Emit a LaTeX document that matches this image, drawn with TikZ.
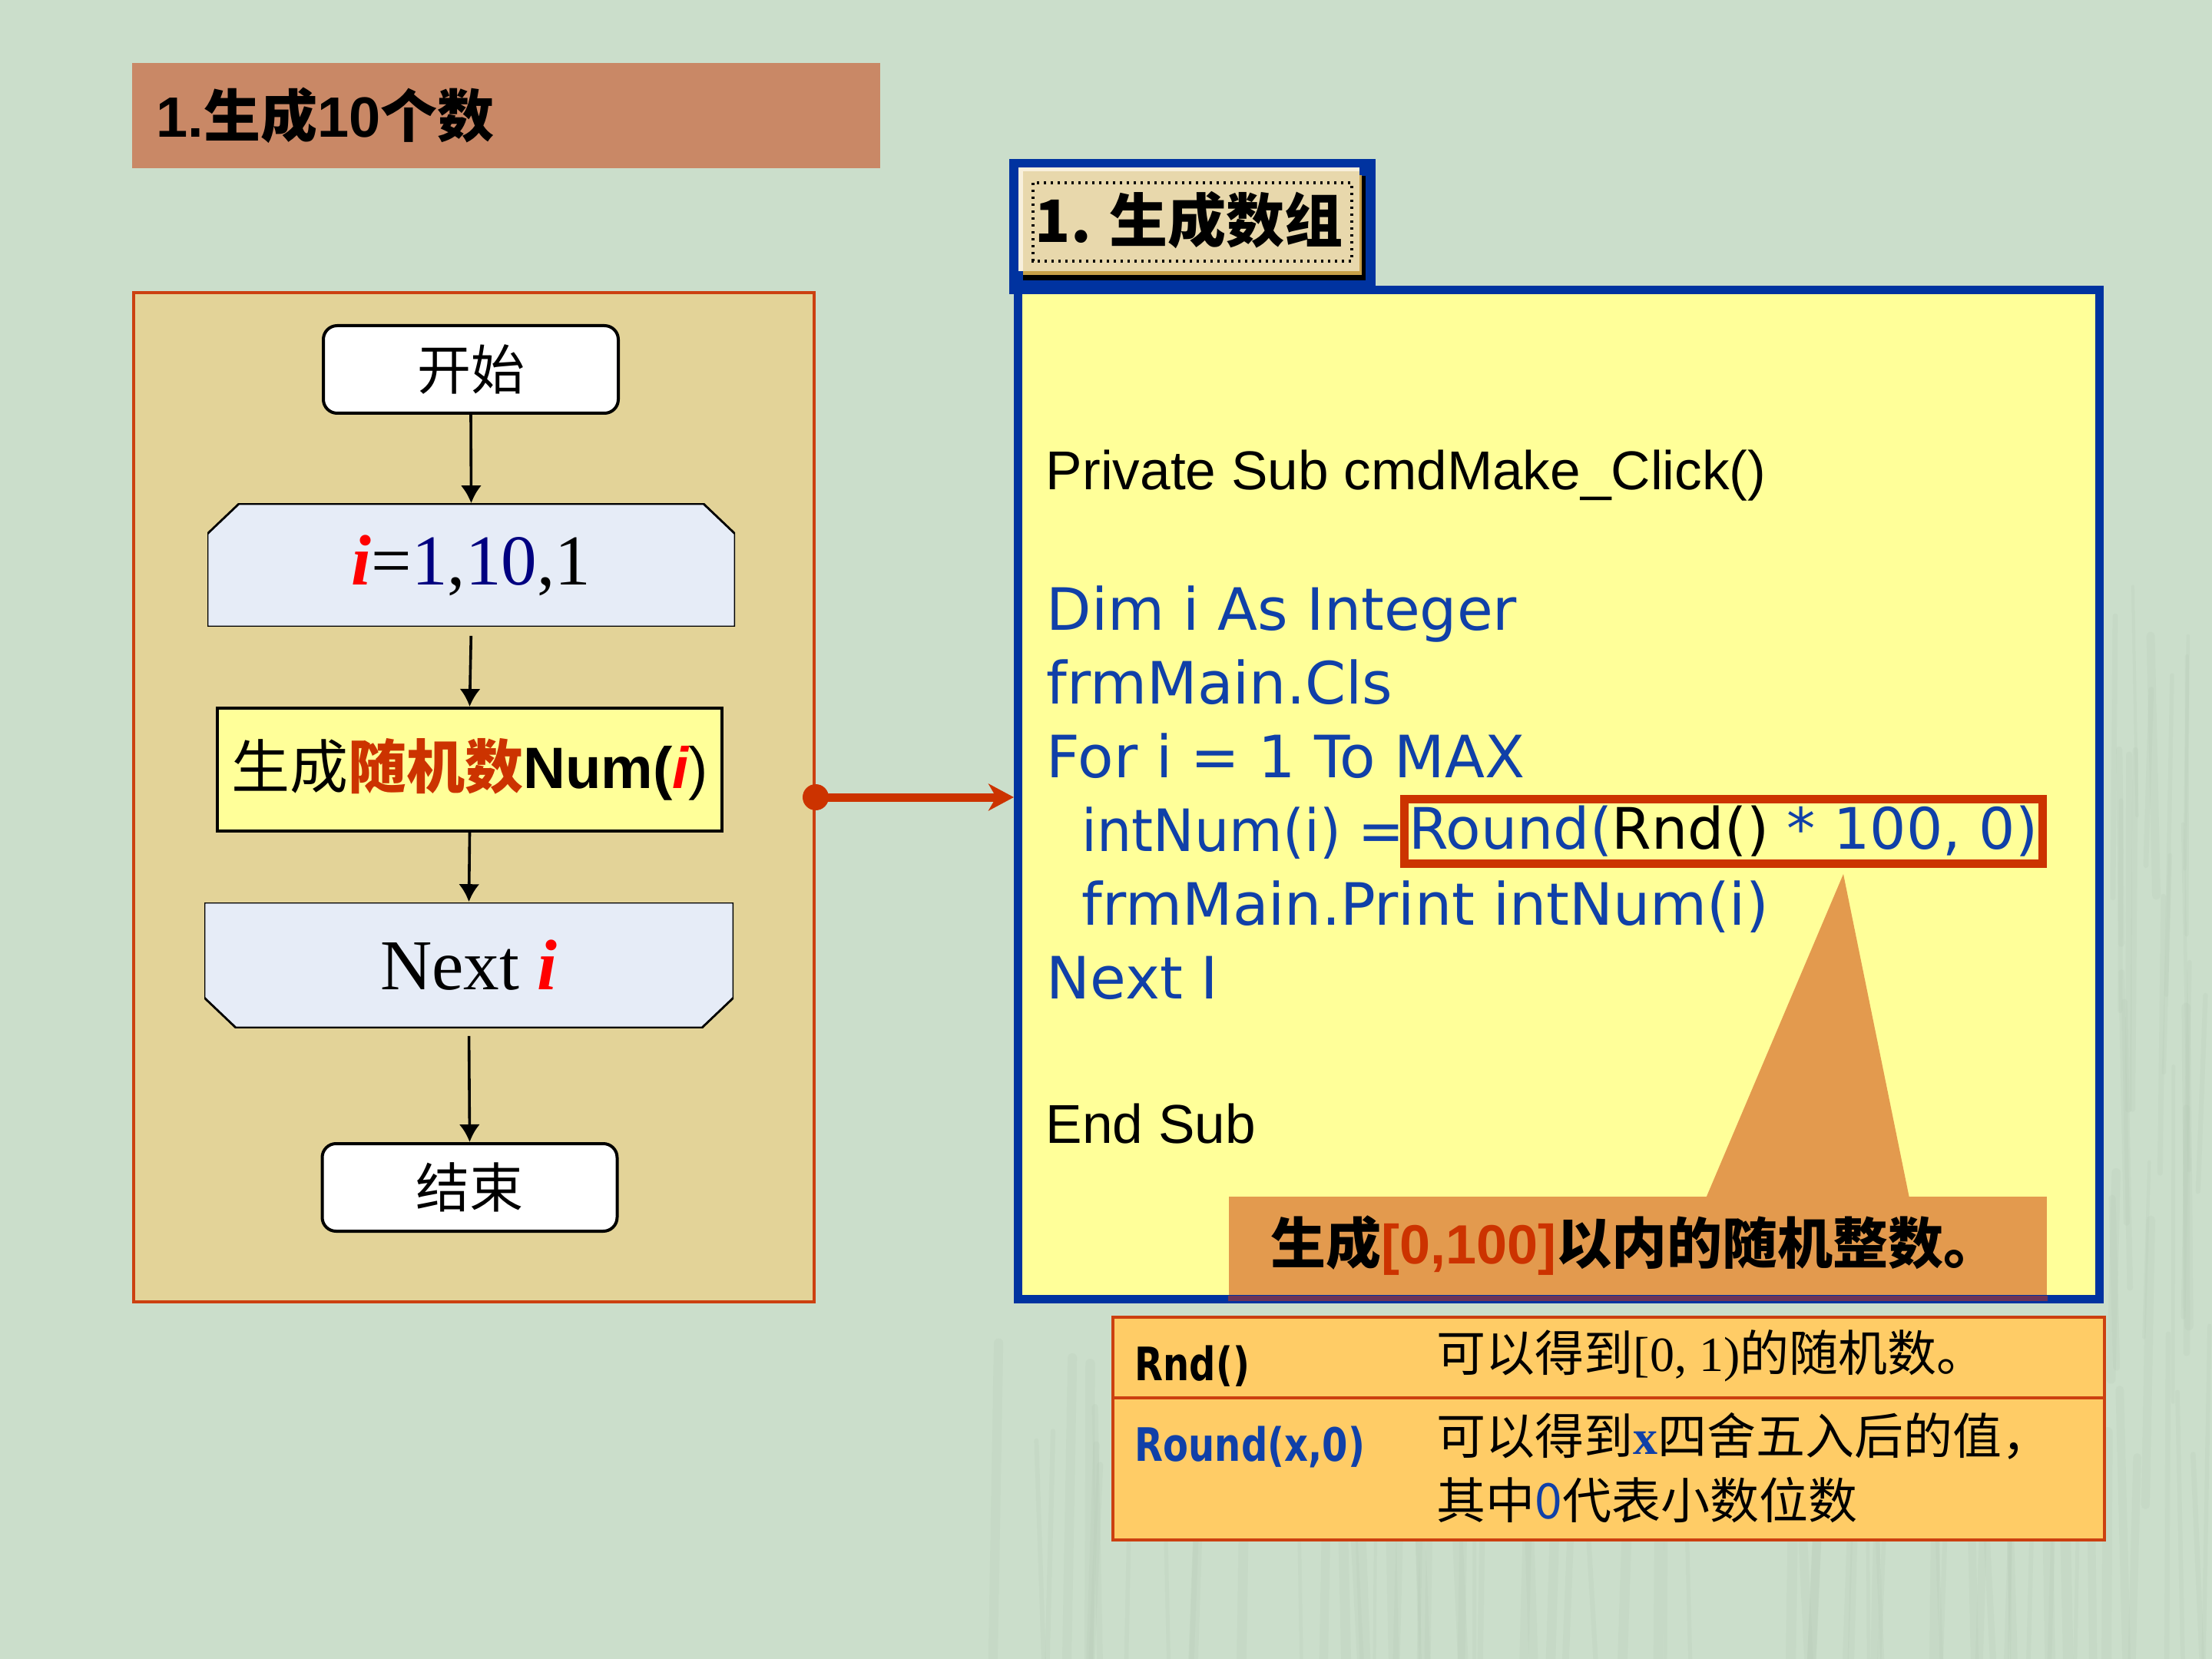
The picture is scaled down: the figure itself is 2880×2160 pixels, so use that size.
\documentclass[tikz,border=0pt]{standalone}
\usepackage{fontspec}
\usetikzlibrary{arrows.meta,calc}
\setmainfont{Liberation Serif}
\newfontfamily\arial{Liberation Sans}
\newfontfamily\cjk{Noto Sans CJK SC}
\newfontfamily\code{DejaVu Sans}
\newfontfamily\coden[FakeStretch=0.94]{DejaVu Sans}
\newfontfamily\codec[FakeStretch=0.8]{DejaVu Sans}
\newcommand\fsz[1]{\fontsize{#1}{#1}\selectfont}
\definecolor{bg}{HTML}{CBDECB}
\definecolor{texture}{HTML}{B5CAB5}
\definecolor{titlefill}{HTML}{C98866}
\definecolor{panelfill}{HTML}{E3D398}
\definecolor{orred}{HTML}{CC4010}
\definecolor{hexfill}{HTML}{E6ECF7}
\definecolor{codeyellow}{HTML}{FFFF99}
\definecolor{pblue}{HTML}{0033A0}
\definecolor{codeblue}{HTML}{1040A8}
\definecolor{navy}{HTML}{000080}
\definecolor{ired}{HTML}{FF0000}
\definecolor{calloutc}{HTML}{E39A4E}
\definecolor{tblfill}{HTML}{FFCC66}
\definecolor{rbox}{HTML}{CC3300}
\definecolor{btnface}{HTML}{E8D8AC}
\definecolor{btnlight}{HTML}{F8F0DC}
\definecolor{btngold}{HTML}{C8A048}
\definecolor{cshadow}{HTML}{6B3358}
\tikzset{
  titlebox/.style={fill=titlefill, minimum width=243.5pt, minimum height=34.25pt,
    text width=227.5pt, inner xsep=8pt, inner ysep=0pt, align=left,
    font=\cjk\bfseries\fsz{18.5}},
  leftbox/.style={fill=panelfill, draw=orred, line width=1pt,
    minimum width=221.5pt, minimum height=328.5pt},
  term/.style={draw, line width=1pt, fill=white, rounded corners=4.5pt,
    minimum width=96pt, minimum height=28.5pt, inner sep=0pt,
    font=\cjk\fsz{17.5}},
  chamtop/.style={minimum width=171.75pt, minimum height=40pt, inner sep=0pt,
    path picture={\filldraw[fill=hexfill, draw=black, line width=0.7pt]
      (path picture bounding box.south west)
      -- ([yshift=-9.75pt]path picture bounding box.north west)
      -- ([xshift=10.25pt]path picture bounding box.north west)
      -- ([xshift=-10.25pt]path picture bounding box.north east)
      -- ([yshift=-9.75pt]path picture bounding box.north east)
      -- (path picture bounding box.south east) -- cycle;}},
  chambot/.style={minimum width=172.25pt, minimum height=40.75pt, inner sep=0pt,
    path picture={\filldraw[fill=hexfill, draw=black, line width=0.7pt]
      (path picture bounding box.north west)
      -- ([yshift=9.75pt]path picture bounding box.south west)
      -- ([xshift=10.25pt]path picture bounding box.south west)
      -- ([xshift=-10.25pt]path picture bounding box.south east)
      -- ([yshift=9.75pt]path picture bounding box.south east)
      -- (path picture bounding box.north east) -- cycle;}},
  procbox/.style={fill=codeyellow, draw, line width=1pt, minimum width=164.25pt,
    minimum height=40pt, inner sep=0pt, font=\cjk\fsz{19}},
  flow/.style={draw=black, line width=0.9pt, -{Latex[length=5.75pt,width=6.75pt]}},
  codepanel/.style={fill=codeyellow, draw=pblue, line width=2.75pt,
    minimum width=352pt, minimum height=328.5pt},
  codeline/.style={anchor=base west, inner sep=0pt, font=\code\fsz{19}, text=codeblue},
  arialline/.style={anchor=base west, inner sep=0pt, font=\arial\fsz{17.8}, text=black},
  rndbox/.style={draw=rbox, line width=2.75pt, anchor=north west, minimum height=21pt,
    inner xsep=1.5pt, inner ysep=0pt, font=\code\fsz{18.6}, text=codeblue},
  calloutbox/.style={fill=calloutc, minimum width=266.25pt, minimum height=32pt,
    inner xsep=13.75pt, inner ysep=0pt, text width=238.75pt, align=left,
    font=\cjk\bfseries\fsz{18}},
  conn/.style={draw=rbox, line width=2.75pt,
    -{Stealth[length=8.25pt,width=8.75pt,inset=2.5pt]}},
  tbl/.style={fill=tblfill, draw=orred, line width=1.1pt,
    minimum width=322.75pt, minimum height=72.5pt},
  tcode/.style={anchor=base west, inner sep=0pt, font=\codec\bfseries\fsz{15}, text=black},
  tcjk/.style={anchor=west, inner sep=0pt, font=\cjk\fsz{16}},
  streak/.style={draw=texture, opacity=0.22, line cap=round},
}
\begin{document}
\begin{tikzpicture}[x=0.25pt,y=-0.25pt]
\useasboundingbox (0,0) rectangle (2880,2160);
\fill[bg] (0,0) rectangle (2880,2160);

% faint background texture (lower right)
\pgfmathsetseed{7}
\foreach \k in {1,...,70}{
  \pgfmathsetmacro{\sx}{1300+rnd*1580}
  \pgfmathsetmacro{\sy}{1720+rnd*220}
  \pgfmathsetmacro{\sw}{1+rnd*2.5}
  \draw[streak, line width=\sw pt] (\sx,\sy) -- (\sx+rnd*30-15,2160);
}
\foreach \k in {1,...,25}{
  \pgfmathsetmacro{\sx}{2745+rnd*130}
  \pgfmathsetmacro{\sy}{700+rnd*900}
  \pgfmathsetmacro{\sw}{1+rnd*2}
  \draw[streak, line width=\sw pt] (\sx,\sy) -- (\sx+rnd*20-10,\sy+200+rnd*300);
}

% title
\node[titlebox, anchor=north west] (title) at (171,81)
  {{\arial 1.}生成{\arial 10}个数};

% left flowchart panel
\node[leftbox, anchor=north west] (leftp) at (172,379) {};
\node[term] (start) at (613,481) {开始};
\node[chamtop, font=\fsz{23.3}] (loop) at (613.5,736)
  {{\color{ired}\bfseries\itshape i}={\color{navy}1},{\color{navy}10},1};
\node[procbox] (gen) at (611.5,1002)
  {生成{\bfseries\color{rbox}随机数}{\arial\bfseries Num(}{\arial\bfseries\itshape\color{ired}i}{\arial )}};
\node[chambot, font=\fsz{23.3}] (next) at (610.5,1256.5)
  {Next {\color{ired}\bfseries\itshape i}};
\node[term] (end) at (611.5,1546) {结束};
\draw[flow] (start.south) -- (loop.north);
\draw[flow, shorten <=2.75pt] (loop.south) -- (gen.north);
\draw[flow] (gen.south) -- (next.north);
\draw[flow, shorten <=2.5pt] (next.south) -- (end.north);

% tab button
\fill[pblue] (1314,207) rectangle (1791,383);
\fill[black] (1332,229) rectangle (1778,365);
\fill[btngold] (1332,228) rectangle (1773,358);
\fill[btnlight] (1326,218) rectangle (1770,353);
\fill[btnface] (1332,223) rectangle (1770,353);
\draw[black, line width=0.83pt, dash pattern=on 0.83pt off 1.42pt] (1345,238) rectangle (1760,340);
\node[font=\cjk\bfseries\fsz{19}, inner sep=0pt] (tab) at (1548,287) {1. 生成数组};

% code panel
\node[codepanel] (code) at (2029.5,1034.5) {};
\node[arialline] (c0) at (1361,638) {Private Sub cmdMake\_Click()};
\node[codeline] (c1) at (1362,821) {Dim i As Integer};
\node[codeline] (c2) at (1362,917) {frmMain.Cls};
\node[codeline] (c3) at (1362,1012) {For i = 1 To MAX};
\node[codeline, font=\coden\fsz{19}] (c4) at (1408,1108) {intNum(i) =};
\node[rndbox] (rnd) at (1823,1035) {Round({\color{black}Rnd()} * 100, 0)};
\node[codeline] (c5) at (1408,1204) {frmMain.Print intNum(i)};
\node[codeline] (c6) at (1362,1300) {Next I};
\node[arialline] (c7) at (1361,1488) {End Sub};

% callout
\fill[calloutc] (2400,1138) -- (2486,1560) -- (2221,1560) -- cycle;
\node[calloutbox, anchor=north west] (note) at (1599,1557)
  {生成{\arial\color{rbox}[0,100]}以内的随机整数。};
\fill[cshadow] (note.south west) rectangle ([yshift=-1.75pt]note.south east);

% connector
\fill[rbox] (leftp.east) circle[radius=17];
\draw[conn] (leftp.east) -- (leftp.east -| code.west);

% table
\node[tbl, anchor=north west] (tbl) at (1447,1713) {};
\draw[draw=orred, line width=1.1pt] ([yshift=-26.75pt]tbl.north west) -- ([yshift=-26.75pt]tbl.north east);
\node[tcode] (t1) at (1477,1797) {Rnd()};
\node[tcode, text=codeblue] (t2) at (1477,1902) {Round(x,0)};
\node[tcjk] (d1) at (1870,1765) {可以得到{\rmfamily[0, 1)}的随机数。};
\node[tcjk] (d2) at (1870,1870) {可以得到{\rmfamily\bfseries\color{codeblue}x}四舍五入后的值，};
\node[tcjk] (d3) at (1870,1953) {其中{\color{codeblue}0}代表小数位数};
\end{tikzpicture}
\end{document}
